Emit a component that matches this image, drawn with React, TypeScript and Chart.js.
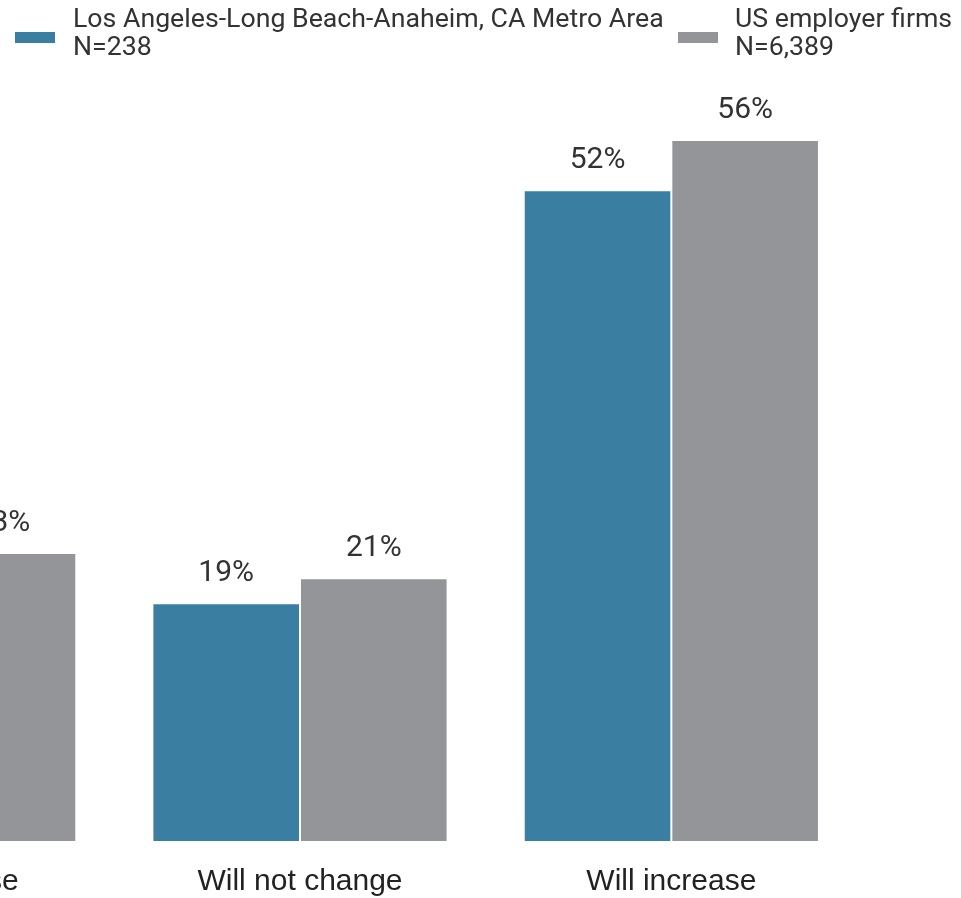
import React, { useEffect, useRef } from "react";
import { Chart, registerables } from "chart.js";

Chart.register(...registerables);

const categories = ["Will decrease", "Will not change", "Will increase"];
const laValues = [29, 19, 52];
const usValues = [23, 21, 56];
const seriesNames = ["Los Angeles-Long Beach-Anaheim, CA Metro Area", "US employer firms"];
const seriesN = ["N=238", "N=6,389"];
const seriesColors = ["#3a7ea1", "#939598"];

const valueLabels = {
  id: "valueLabels",
  afterDatasetsDraw(chart: any) {
    const ctx = chart.ctx;
    ctx.save();
    ctx.font = "30px Roboto";
    ctx.fillStyle = "#333333";
    ctx.textAlign = "center";
    ctx.textBaseline = "alphabetic";
    chart.data.datasets.forEach((ds: any, i: number) => {
      const meta = chart.getDatasetMeta(i);
      meta.data.forEach((el: any, j: number) => {
        ctx.fillText(ds.data[j] + "%", el.x, el.y - 22);
      });
    });
    ctx.restore();
  },
};

export default function App() {
  const ref = useRef<HTMLCanvasElement | null>(null);

  useEffect(() => {
    if (!ref.current) return;
    const chart = new Chart(ref.current, {
      type: "bar",
      data: {
        labels: categories,
        datasets: [
          {
            label: seriesNames[0],
            data: laValues,
            backgroundColor: seriesColors[0],
            borderColor: "#ffffff",
            borderWidth: 1,
            categoryPercentage: 0.795,
            barPercentage: 1,
          },
          {
            label: seriesNames[1],
            data: usValues,
            backgroundColor: seriesColors[1],
            borderColor: "#ffffff",
            borderWidth: 1,
            categoryPercentage: 0.795,
            barPercentage: 1,
          },
        ],
      },
      options: {
        animation: false,
        responsive: true,
        maintainAspectRatio: false,
        layout: { padding: { top: 90, bottom: 0, left: 0, right: 0 } },
        plugins: {
          legend: { display: false },
          tooltip: { enabled: false },
        },
        scales: {
          x: {
            grid: { display: false, drawTicks: false },
            border: { display: false },
            ticks: {
              padding: 23,
              color: "#222222",
              font: { family: "'Liberation Sans', Arial, sans-serif", size: 30 },
            },
          },
          y: {
            display: false,
            min: 0,
            max: 60,
          },
        },
      },
      plugins: [valueLabels],
    });
    return () => chart.destroy();
  }, []);

  const legendText: React.CSSProperties = {
    position: "absolute",
    fontFamily: "Roboto, sans-serif",
    fontSize: 26.7,
    lineHeight: "28px",
    color: "#333333",
    whiteSpace: "nowrap",
    top: 4,
  };

  return (
    <div
      style={{
        position: "fixed",
        left: 0,
        top: 0,
        width: 961,
        height: 898,
        overflow: "hidden",
        background: "#ffffff",
      }}
    >
      <div style={{ position: "absolute", left: -257, top: 0, width: 1114, height: 923 }}>
        <canvas ref={ref} />
      </div>
      <div style={{ position: "absolute", left: 15, top: 32, width: 40, height: 11, background: seriesColors[0] }} />
      <div style={{ ...legendText, left: 73 }}>
        {seriesNames[0]}
        <br />
        {seriesN[0]}
      </div>
      <div style={{ position: "absolute", left: 678, top: 32, width: 40, height: 11, background: seriesColors[1] }} />
      <div style={{ ...legendText, left: 735 }}>
        {seriesNames[1]}
        <br />
        {seriesN[1]}
      </div>
    </div>
  );
}
